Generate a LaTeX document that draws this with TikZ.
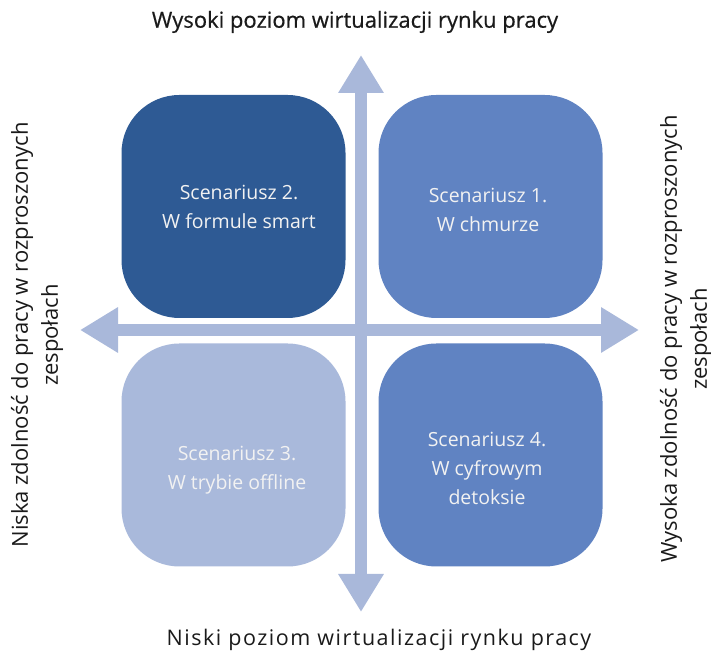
\documentclass[tikz,border=0pt]{standalone}
\usepackage{fontspec}
\setmainfont{Open Sans}
\newfontfamily\semibfont[FakeBold=0.6]{Open Sans}
\newfontfamily\spacedfont[LetterSpace=7]{Open Sans}
\usetikzlibrary{arrows.meta}
\definecolor{arrowc}{HTML}{A9B8DA}
\definecolor{boxdark}{HTML}{2E5A94}
\definecolor{boxmid}{HTML}{6083C2}
\definecolor{boxlight}{HTML}{A9B9DB}
\definecolor{txt}{HTML}{1A1A1A}
\begin{document}
\begin{tikzpicture}[x=1pt,y=1pt,
  quad/.style={rounded corners=58pt, minimum width=224pt, minimum height=223pt, inner sep=0pt},
  quadtext/.style={text=white!95!black, align=center, font=\fontsize{19.5}{29}\selectfont},
  axis/.style={draw=arrowc, line width=12pt, {Triangle[width=43pt,length=38pt]}-{Triangle[width=43pt,length=38pt]}},
  lab/.style={text=txt, align=center, font=\fontsize{22}{30}\selectfont}]
\useasboundingbox (0,0) rectangle (711,660);
% boxes
\node[quad, fill=boxdark] (q2) at (233.5,453.5) {};
\node[quad, fill=boxmid] (q1) at (490.5,453.5) {};
\node[quad, fill=boxlight] (q3) at (233.5,205) {};
\node[quad, fill=boxmid] (q4) at (490.5,205) {};
\node[quadtext] (t2) at (239,453) {Scenariusz 2.\\W formule smart};
\node[quadtext] (t1) at (488,450) {Scenariusz 1.\\W chmurze};
\node[quadtext] (t3) at (237,190) {Scenariusz 3.\\W trybie offline};
\node[quadtext] (t4) at (487,192) {Scenariusz 4.\\W cyfrowym\\detoksie};
% axes
\coordinate (vtop) at (361,605);
\coordinate (vbot) at (361,48);
\coordinate (hl) at (80,330);
\coordinate (hr) at (639,330);
\draw[axis] (vbot) -- (vtop);
\draw[axis] (hl) -- (hr);
% labels
\node[lab, font=\fontsize{22}{29}\semibfont] (top) at (355,638) {Wysoki poziom wirtualizacji rynku pracy};
\node[lab, font=\fontsize{21.5}{29}\spacedfont] (bot) at (379,20) {Niski poziom wirtualizacji rynku pracy};
\node[lab, rotate=90] (left) at (37,325) {Niska zdolność do pracy w rozproszonych\\zespołach};
\node[lab, rotate=90] (right) at (686,321) {Wysoka zdolność do pracy w rozproszonych\\zespołach};
\end{tikzpicture}
\end{document}
